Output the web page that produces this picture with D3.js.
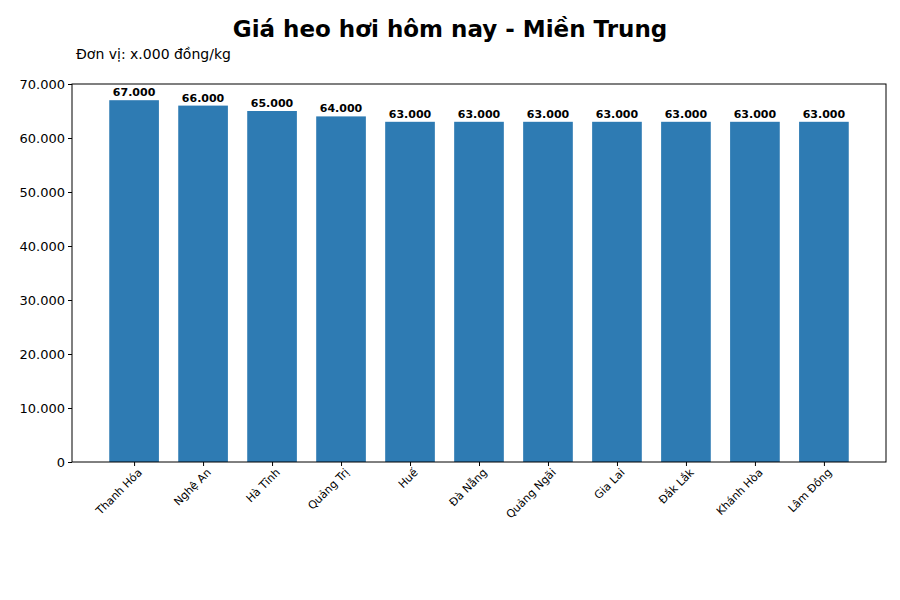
<!DOCTYPE html><html><head><meta charset="utf-8"><script src="https://cdn.jsdelivr.net/npm/d3@7"></script>
<style>body{margin:0;background:#fff}text{font-family:"DejaVu Sans",sans-serif}</style></head><body><svg width="900" height="600"></svg>
<script>
const categories=["Thanh Hóa","Nghệ An","Hà Tĩnh","Quảng Trị","Huế","Đà Nẵng","Quảng Ngãi","Gia Lai","Đắk Lắk","Khánh Hòa","Lâm Đồng"];
const values=[67000,66000,65000,64000,63000,63000,63000,63000,63000,63000,63000];
const yTicks=[0,10000,20000,30000,40000,50000,60000,70000];
const fmt=v=>v===0?"0":d3.format(",.3f")(v/1000).replace(",","X").replace(".",".").replace("X",",");
const f2=v=>v===0?"0":(Math.floor(v/1000))+"."+String(v%1000).padStart(3,"0");
const svg=d3.select("svg");
const L=72,R=886,T=84,B=462;
const x=d3.scaleLinear().domain([-0.9,10.9]).range([L,R]);
const y=d3.scaleLinear().domain([0,70000]).range([B,T]);
const bw=x(0.72)-x(0);
svg.append("text").attr("x",450).attr("y",37).attr("text-anchor","middle").attr("font-size",23).attr("font-weight","bold").text("Giá heo hơi hôm nay - Miền Trung");
svg.append("text").attr("x",76).attr("y",59).attr("font-size",14).text("Đơn vị: x.000 đồng/kg");
svg.selectAll(".bar").data(values).join("rect").attr("x",(d,i)=>x(i)-bw/2).attr("width",bw).attr("y",d=>y(d)).attr("height",d=>B-y(d)).attr("fill","#2e7bb3");
svg.selectAll(".lbl").data(values).join("text").attr("x",(d,i)=>x(i)).attr("y",d=>y(d)-4).attr("text-anchor","middle").attr("font-size",11).attr("font-weight","bold").text(f2);
const ya=svg.append("g").attr("transform",`translate(${L},0)`).call(d3.axisLeft(y).tickValues(yTicks).tickFormat(f2).tickSize(4));
ya.selectAll("text").attr("font-size",13).attr("fill","#000").style("font-family","DejaVu Sans");
const xa=svg.append("g").attr("transform",`translate(0,${B})`).call(d3.axisBottom(x).tickValues(d3.range(11)).tickFormat(i=>categories[i]).tickSize(4));
xa.selectAll("text").attr("font-size",11).attr("fill","#000").style("font-family","DejaVu Sans").attr("text-anchor","end").attr("dx","-0.2em").attr("dy","0.6em").attr("transform","rotate(-45)");
svg.selectAll(".domain").remove();
svg.append("rect").attr("x",L).attr("y",T).attr("width",R-L).attr("height",B-T).attr("fill","none").attr("stroke","#000").attr("stroke-width",1);
</script></body></html>
